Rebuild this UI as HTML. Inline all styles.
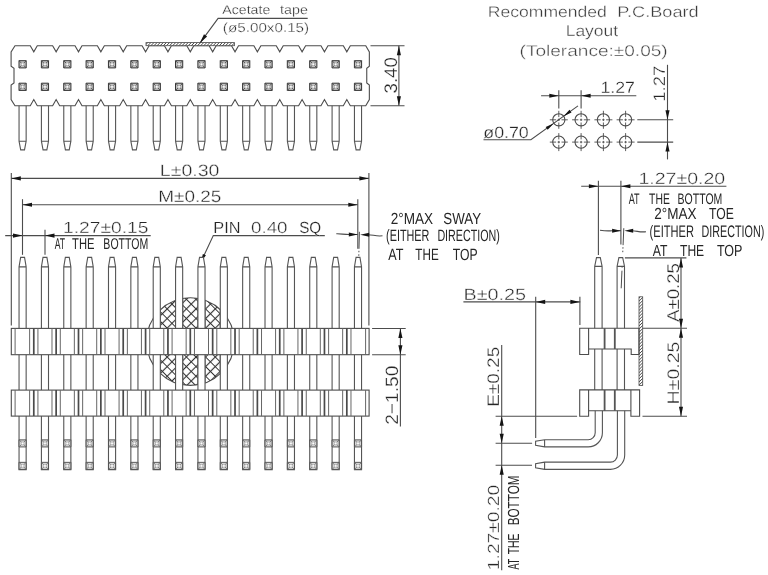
<!DOCTYPE html>
<html lang="en"><head><meta charset="utf-8"><title>Pin header drawing</title>
<style>
html,body{margin:0;padding:0;background:#fff;}
body{width:768px;height:575px;overflow:hidden;}
svg{display:block;}
svg #d{stroke:#4c4c4c;stroke-width:1.1;fill:none;}
svg .ar{fill:#141414;stroke:none;}
svg .sq{fill:#c4c4c4;stroke:#333;stroke-width:1;}
svg .sqd{stroke:#4a4a4a;stroke-width:0.9;}
svg .sq.lt{fill:#d6d6d6;stroke:#4a4a4a;stroke-width:0.9;}
svg .sqd.lt{stroke:#666;stroke-width:0.8;}
svg .sqi{fill:#fff;stroke:#999;stroke-width:0.5;}
svg #d{opacity:0.999;}
svg .t{font-family:"Liberation Sans",sans-serif;fill:#262626;stroke:#fff;text-rendering:geometricPrecision;}
svg .tl{fill:#3c3c3c;}
</style></head>
<body>
<svg width="768" height="575" viewBox="0 0 768 575">
<defs>
<pattern id="h1" width="2.2" height="2.2" patternUnits="userSpaceOnUse" patternTransform="rotate(45)"><rect width="2.2" height="2.2" fill="#fff"/><line x1="0" y1="0" x2="0" y2="2.2" style="stroke:#333;stroke-width:1.3"/></pattern>
<pattern id="h2" width="6.8" height="6.8" patternUnits="userSpaceOnUse" patternTransform="translate(191.2 299.29) rotate(45)"><path d="M0 3.4H6.8M3.4 0V6.8" style="stroke:#333;stroke-width:1.15;fill:none"/></pattern>
</defs>
<rect width="768" height="575" fill="#fff"/>
<g id="d">
<g id="topview">
<path d="M15 45.7L30.28 45.7L33.78 51.8L37.28 45.7L52.64 45.7L56.14 51.8L59.64 45.7L75 45.7L78.5 51.8L82 45.7L97.36 45.7L100.86 51.8L104.36 45.7L119.72 45.7L123.22 51.8L126.72 45.7L142.08 45.7L145.58 51.8L149.08 45.7L164.44 45.7L167.94 51.8L171.44 45.7L186.8 45.7L190.3 51.8L193.8 45.7L209.16 45.7L212.66 51.8L216.16 45.7L231.52 45.7L235.02 51.8L238.52 45.7L253.88 45.7L257.38 51.8L260.88 45.7L276.24 45.7L279.74 51.8L283.24 45.7L298.6 45.7L302.1 51.8L305.6 45.7L320.96 45.7L324.46 51.8L327.96 45.7L343.32 45.7L346.82 51.8L350.32 45.7L365.75 45.7L369.35 51.9L369.35 66.3L366.75 68.3L366.75 83L369.35 85L369.35 99.5L365.75 105.7L350.32 105.7L346.82 99.6L343.32 105.7L327.96 105.7L324.46 99.6L320.96 105.7L305.6 105.7L302.1 99.6L298.6 105.7L283.24 105.7L279.74 99.6L276.24 105.7L260.88 105.7L257.38 99.6L253.88 105.7L238.52 105.7L235.02 99.6L231.52 105.7L216.16 105.7L212.66 99.6L209.16 105.7L193.8 105.7L190.3 99.6L186.8 105.7L171.44 105.7L167.94 99.6L164.44 105.7L149.08 105.7L145.58 99.6L142.08 105.7L126.72 105.7L123.22 99.6L119.72 105.7L104.36 105.7L100.86 99.6L97.36 105.7L82 105.7L78.5 99.6L75 105.7L59.64 105.7L56.14 99.6L52.64 105.7L37.28 105.7L33.78 99.6L30.28 105.7L15 105.7L11.1 99.5L11.1 85L14 83L14 68.3L11.1 66.3L11.1 51.9Z"/>
<path class="sq" d="M19 60.7h7.2v7.2h-7.2Z"/>
<path class="sqd" d="M19 60.7l7.2 7.2M26.2 60.7l-7.2 7.2"/>
<path class="sqi" d="M21.35 63.05h2.5v2.5h-2.5Z"/>
<path class="sq" d="M19 83.2h7.2v7.2h-7.2Z"/>
<path class="sqd" d="M19 83.2l7.2 7.2M26.2 83.2l-7.2 7.2"/>
<path class="sqi" d="M21.35 85.55h2.5v2.5h-2.5Z"/>
<path d="M19.05 105.7V141.2L20.7 149.9H24.5L26.15 141.2V105.7M19.05 141.2H26.15" stroke="#555"/>
<path class="sq" d="M41.36 60.7h7.2v7.2h-7.2Z"/>
<path class="sqd" d="M41.36 60.7l7.2 7.2M48.56 60.7l-7.2 7.2"/>
<path class="sqi" d="M43.71 63.05h2.5v2.5h-2.5Z"/>
<path class="sq" d="M41.36 83.2h7.2v7.2h-7.2Z"/>
<path class="sqd" d="M41.36 83.2l7.2 7.2M48.56 83.2l-7.2 7.2"/>
<path class="sqi" d="M43.71 85.55h2.5v2.5h-2.5Z"/>
<path d="M41.41 105.7V141.2L43.06 149.9H46.86L48.51 141.2V105.7M41.41 141.2H48.51" stroke="#555"/>
<path class="sq" d="M63.72 60.7h7.2v7.2h-7.2Z"/>
<path class="sqd" d="M63.72 60.7l7.2 7.2M70.92 60.7l-7.2 7.2"/>
<path class="sqi" d="M66.07 63.05h2.5v2.5h-2.5Z"/>
<path class="sq" d="M63.72 83.2h7.2v7.2h-7.2Z"/>
<path class="sqd" d="M63.72 83.2l7.2 7.2M70.92 83.2l-7.2 7.2"/>
<path class="sqi" d="M66.07 85.55h2.5v2.5h-2.5Z"/>
<path d="M63.77 105.7V141.2L65.42 149.9H69.22L70.87 141.2V105.7M63.77 141.2H70.87" stroke="#555"/>
<path class="sq" d="M86.08 60.7h7.2v7.2h-7.2Z"/>
<path class="sqd" d="M86.08 60.7l7.2 7.2M93.28 60.7l-7.2 7.2"/>
<path class="sqi" d="M88.43 63.05h2.5v2.5h-2.5Z"/>
<path class="sq" d="M86.08 83.2h7.2v7.2h-7.2Z"/>
<path class="sqd" d="M86.08 83.2l7.2 7.2M93.28 83.2l-7.2 7.2"/>
<path class="sqi" d="M88.43 85.55h2.5v2.5h-2.5Z"/>
<path d="M86.13 105.7V141.2L87.78 149.9H91.58L93.23 141.2V105.7M86.13 141.2H93.23" stroke="#555"/>
<path class="sq" d="M108.44 60.7h7.2v7.2h-7.2Z"/>
<path class="sqd" d="M108.44 60.7l7.2 7.2M115.64 60.7l-7.2 7.2"/>
<path class="sqi" d="M110.79 63.05h2.5v2.5h-2.5Z"/>
<path class="sq" d="M108.44 83.2h7.2v7.2h-7.2Z"/>
<path class="sqd" d="M108.44 83.2l7.2 7.2M115.64 83.2l-7.2 7.2"/>
<path class="sqi" d="M110.79 85.55h2.5v2.5h-2.5Z"/>
<path d="M108.49 105.7V141.2L110.14 149.9H113.94L115.59 141.2V105.7M108.49 141.2H115.59" stroke="#555"/>
<path class="sq" d="M130.8 60.7h7.2v7.2h-7.2Z"/>
<path class="sqd" d="M130.8 60.7l7.2 7.2M138 60.7l-7.2 7.2"/>
<path class="sqi" d="M133.15 63.05h2.5v2.5h-2.5Z"/>
<path class="sq" d="M130.8 83.2h7.2v7.2h-7.2Z"/>
<path class="sqd" d="M130.8 83.2l7.2 7.2M138 83.2l-7.2 7.2"/>
<path class="sqi" d="M133.15 85.55h2.5v2.5h-2.5Z"/>
<path d="M130.85 105.7V141.2L132.5 149.9H136.3L137.95 141.2V105.7M130.85 141.2H137.95" stroke="#555"/>
<path class="sq" d="M153.16 60.7h7.2v7.2h-7.2Z"/>
<path class="sqd" d="M153.16 60.7l7.2 7.2M160.36 60.7l-7.2 7.2"/>
<path class="sqi" d="M155.51 63.05h2.5v2.5h-2.5Z"/>
<path class="sq" d="M153.16 83.2h7.2v7.2h-7.2Z"/>
<path class="sqd" d="M153.16 83.2l7.2 7.2M160.36 83.2l-7.2 7.2"/>
<path class="sqi" d="M155.51 85.55h2.5v2.5h-2.5Z"/>
<path d="M153.21 105.7V141.2L154.86 149.9H158.66L160.31 141.2V105.7M153.21 141.2H160.31" stroke="#555"/>
<path class="sq" d="M175.52 60.7h7.2v7.2h-7.2Z"/>
<path class="sqd" d="M175.52 60.7l7.2 7.2M182.72 60.7l-7.2 7.2"/>
<path class="sqi" d="M177.87 63.05h2.5v2.5h-2.5Z"/>
<path class="sq" d="M175.52 83.2h7.2v7.2h-7.2Z"/>
<path class="sqd" d="M175.52 83.2l7.2 7.2M182.72 83.2l-7.2 7.2"/>
<path class="sqi" d="M177.87 85.55h2.5v2.5h-2.5Z"/>
<path d="M175.57 105.7V141.2L177.22 149.9H181.02L182.67 141.2V105.7M175.57 141.2H182.67" stroke="#555"/>
<path class="sq" d="M197.88 60.7h7.2v7.2h-7.2Z"/>
<path class="sqd" d="M197.88 60.7l7.2 7.2M205.08 60.7l-7.2 7.2"/>
<path class="sqi" d="M200.23 63.05h2.5v2.5h-2.5Z"/>
<path class="sq" d="M197.88 83.2h7.2v7.2h-7.2Z"/>
<path class="sqd" d="M197.88 83.2l7.2 7.2M205.08 83.2l-7.2 7.2"/>
<path class="sqi" d="M200.23 85.55h2.5v2.5h-2.5Z"/>
<path d="M197.93 105.7V141.2L199.58 149.9H203.38L205.03 141.2V105.7M197.93 141.2H205.03" stroke="#555"/>
<path class="sq" d="M220.24 60.7h7.2v7.2h-7.2Z"/>
<path class="sqd" d="M220.24 60.7l7.2 7.2M227.44 60.7l-7.2 7.2"/>
<path class="sqi" d="M222.59 63.05h2.5v2.5h-2.5Z"/>
<path class="sq" d="M220.24 83.2h7.2v7.2h-7.2Z"/>
<path class="sqd" d="M220.24 83.2l7.2 7.2M227.44 83.2l-7.2 7.2"/>
<path class="sqi" d="M222.59 85.55h2.5v2.5h-2.5Z"/>
<path d="M220.29 105.7V141.2L221.94 149.9H225.74L227.39 141.2V105.7M220.29 141.2H227.39" stroke="#555"/>
<path class="sq" d="M242.6 60.7h7.2v7.2h-7.2Z"/>
<path class="sqd" d="M242.6 60.7l7.2 7.2M249.8 60.7l-7.2 7.2"/>
<path class="sqi" d="M244.95 63.05h2.5v2.5h-2.5Z"/>
<path class="sq" d="M242.6 83.2h7.2v7.2h-7.2Z"/>
<path class="sqd" d="M242.6 83.2l7.2 7.2M249.8 83.2l-7.2 7.2"/>
<path class="sqi" d="M244.95 85.55h2.5v2.5h-2.5Z"/>
<path d="M242.65 105.7V141.2L244.3 149.9H248.1L249.75 141.2V105.7M242.65 141.2H249.75" stroke="#555"/>
<path class="sq" d="M264.96 60.7h7.2v7.2h-7.2Z"/>
<path class="sqd" d="M264.96 60.7l7.2 7.2M272.16 60.7l-7.2 7.2"/>
<path class="sqi" d="M267.31 63.05h2.5v2.5h-2.5Z"/>
<path class="sq" d="M264.96 83.2h7.2v7.2h-7.2Z"/>
<path class="sqd" d="M264.96 83.2l7.2 7.2M272.16 83.2l-7.2 7.2"/>
<path class="sqi" d="M267.31 85.55h2.5v2.5h-2.5Z"/>
<path d="M265.01 105.7V141.2L266.66 149.9H270.46L272.11 141.2V105.7M265.01 141.2H272.11" stroke="#555"/>
<path class="sq" d="M287.32 60.7h7.2v7.2h-7.2Z"/>
<path class="sqd" d="M287.32 60.7l7.2 7.2M294.52 60.7l-7.2 7.2"/>
<path class="sqi" d="M289.67 63.05h2.5v2.5h-2.5Z"/>
<path class="sq" d="M287.32 83.2h7.2v7.2h-7.2Z"/>
<path class="sqd" d="M287.32 83.2l7.2 7.2M294.52 83.2l-7.2 7.2"/>
<path class="sqi" d="M289.67 85.55h2.5v2.5h-2.5Z"/>
<path d="M287.37 105.7V141.2L289.02 149.9H292.82L294.47 141.2V105.7M287.37 141.2H294.47" stroke="#555"/>
<path class="sq" d="M309.68 60.7h7.2v7.2h-7.2Z"/>
<path class="sqd" d="M309.68 60.7l7.2 7.2M316.88 60.7l-7.2 7.2"/>
<path class="sqi" d="M312.03 63.05h2.5v2.5h-2.5Z"/>
<path class="sq" d="M309.68 83.2h7.2v7.2h-7.2Z"/>
<path class="sqd" d="M309.68 83.2l7.2 7.2M316.88 83.2l-7.2 7.2"/>
<path class="sqi" d="M312.03 85.55h2.5v2.5h-2.5Z"/>
<path d="M309.73 105.7V141.2L311.38 149.9H315.18L316.83 141.2V105.7M309.73 141.2H316.83" stroke="#555"/>
<path class="sq" d="M332.04 60.7h7.2v7.2h-7.2Z"/>
<path class="sqd" d="M332.04 60.7l7.2 7.2M339.24 60.7l-7.2 7.2"/>
<path class="sqi" d="M334.39 63.05h2.5v2.5h-2.5Z"/>
<path class="sq" d="M332.04 83.2h7.2v7.2h-7.2Z"/>
<path class="sqd" d="M332.04 83.2l7.2 7.2M339.24 83.2l-7.2 7.2"/>
<path class="sqi" d="M334.39 85.55h2.5v2.5h-2.5Z"/>
<path d="M332.09 105.7V141.2L333.74 149.9H337.54L339.19 141.2V105.7M332.09 141.2H339.19" stroke="#555"/>
<path class="sq" d="M354.4 60.7h7.2v7.2h-7.2Z"/>
<path class="sqd" d="M354.4 60.7l7.2 7.2M361.6 60.7l-7.2 7.2"/>
<path class="sqi" d="M356.75 63.05h2.5v2.5h-2.5Z"/>
<path class="sq" d="M354.4 83.2h7.2v7.2h-7.2Z"/>
<path class="sqd" d="M354.4 83.2l7.2 7.2M361.6 83.2l-7.2 7.2"/>
<path class="sqi" d="M356.75 85.55h2.5v2.5h-2.5Z"/>
<path d="M354.45 105.7V141.2L356.1 149.9H359.9L361.55 141.2V105.7M354.45 141.2H361.55" stroke="#555"/>
<rect x="146" y="42.6" width="88.5" height="3.1" fill="url(#h1)" stroke="#4c4c4c" stroke-width="0.8"/>
<line x1="370.5" y1="45.7" x2="404.5" y2="45.7"/>
<line x1="370.5" y1="105.7" x2="404.5" y2="105.7"/>
<line x1="398.9" y1="45.7" x2="398.9" y2="105.7"/>
<path class="ar" d="M398.9 45.7L400.95 55.2L396.85 55.2Z"/>
<path class="ar" d="M398.9 105.7L396.85 96.2L400.95 96.2Z"/>
<text class="t" transform="translate(397.2 93.44) rotate(-90) scale(1.0257 1)" font-size="18.14" style="stroke-width:0.24px">3.40</text>
<path d="M307.7 18.4H218.1L200.6 42.2"/>
<path class="ar" d="M199.6 43.4L204.01 34.23L207.07 36.48Z"/>
<text class="t" transform="translate(222.25 13.5) scale(1.1152 1)" font-size="12.71" style="stroke-width:0.30px">Acetate</text>
<text class="t" transform="translate(280.11 13.5) scale(1.1233 1)" font-size="12.71" style="stroke-width:0.30px">tape</text>
<text class="t" transform="translate(222.84 31.6) scale(1.1712 1)" font-size="13" style="stroke-width:0.33px">(ø5.00x0.15)</text>
</g>
<g id="front">
<line x1="11.3" y1="173.1" x2="11.3" y2="325.4"/>
<line x1="368.9" y1="173.1" x2="368.9" y2="325.6"/>
<line x1="11.3" y1="178.4" x2="368.9" y2="178.4"/>
<path class="ar" d="M11.3 178.4L20.8 176.35L20.8 180.45Z"/>
<path class="ar" d="M368.9 178.4L359.4 180.45L359.4 176.35Z"/>
<text class="t" transform="translate(159.84 176) scale(1.1883 1)" font-size="16.43" style="stroke-width:0.35px">L±0.30</text>
<line x1="22.5" y1="199.2" x2="22.5" y2="254.8"/>
<line x1="357.8" y1="199.2" x2="357.8" y2="248.7"/>
<line x1="22.5" y1="204.8" x2="357.8" y2="204.8"/>
<path class="ar" d="M22.5 204.8L32 202.75L32 206.85Z"/>
<path class="ar" d="M357.8 204.8L348.3 206.85L348.3 202.75Z"/>
<text class="t" transform="translate(158.23 202.2) scale(1.1558 1)" font-size="16.43" style="stroke-width:0.32px">M±0.25</text>
<line x1="5.2" y1="235.6" x2="150.7" y2="235.6"/>
<line x1="45" y1="229.8" x2="45" y2="254.8"/>
<path class="ar" d="M22.5 235.6L13 237.65L13 233.55Z"/>
<path class="ar" d="M45 235.6L54.5 233.55L54.5 237.65Z"/>
<text class="t" transform="translate(63.06 233.1) scale(1.1931 1)" font-size="16.14" style="stroke-width:0.35px">1.27±0.15</text>
<text class="t" transform="translate(54.7 249.2) scale(0.5551 1)" font-size="15.57" style="stroke:none">AT</text>
<text class="t" transform="translate(72.08 249.2) scale(0.7183 1)" font-size="15.57" style="stroke:none">THE</text>
<text class="t" transform="translate(103.36 249.2) scale(0.6782 1)" font-size="15.57" style="stroke:none">BOTTOM</text>
<path d="M324.8 235.6H213.3L200.8 262.3"/>
<path class="ar" d="M200.8 262.3L202.86 253.88L205.94 255.32Z"/>
<text class="t" transform="translate(213.29 232.6) scale(1.0113 1)" font-size="16.14" style="stroke-width:0.23px">PIN</text>
<text class="t" transform="translate(251 232.6) scale(1.1644 1)" font-size="16.14" style="stroke-width:0.33px">0.40</text>
<text class="t" transform="translate(299.14 232.6) scale(0.9453 1)" font-size="16.14" style="stroke-width:0.18px">SQ</text>
<path d="M336.3 233.8C340 233.6 344 234.5 349 234.5H357.8"/>
<path class="ar" d="M357.8 234.5L348.8 236.55L348.8 232.45Z"/>
<path d="M368 234.7C373 234.7 376 236.6 382.5 235.8"/>
<path class="ar" d="M360.2 234.7L369.2 232.65L369.2 236.75Z"/>
<line x1="359.4" y1="231.8" x2="357.9" y2="292" stroke-dasharray="17 2 1.5 2 1.5 14 1.5 3 30" stroke-width="1"/>
<text class="t" transform="translate(390.72 223.5) scale(0.8409 1)" font-size="16.14" style="stroke:none">2°MAX</text>
<text class="t" transform="translate(443.33 223.5) scale(0.8248 1)" font-size="16.14" style="stroke:none">SWAY</text>
<text class="t" transform="translate(386.05 240.8) scale(0.6603 1)" font-size="16.43" style="stroke:none">(EITHER</text>
<text class="t" transform="translate(437.39 240.8) scale(0.6520 1)" font-size="16.43" style="stroke:none">DIRECTION)</text>
<text class="t" transform="translate(388.25 259.7) scale(0.7727 1)" font-size="16.29" style="stroke:none">AT</text>
<text class="t" transform="translate(415.37 259.7) scale(0.7169 1)" font-size="16.29" style="stroke:none">THE</text>
<text class="t" transform="translate(452.86 259.7) scale(0.7487 1)" font-size="16.29" style="stroke:none">TOP</text>
<circle cx="190.4" cy="341.6" r="43.8" fill="none"/>
<clipPath id="cc"><circle cx="190.4" cy="341.6" r="43.8"/></clipPath>
<rect x="160.31" y="296" width="15.26" height="91" fill="url(#h2)" clip-path="url(#cc)"/>
<rect x="182.67" y="296" width="15.26" height="91" fill="url(#h2)" clip-path="url(#cc)"/>
<rect x="205.03" y="296" width="15.26" height="91" fill="url(#h2)" clip-path="url(#cc)"/>
<path d="M19.05 328.4V266.9L20.65 257.4H24.55L26.15 266.9V328.4M19.05 266.9H26.15" stroke="#555" fill="#fff"/>
<rect x="19.05" y="354.7" width="7.1" height="35.4" fill="#fff" stroke="none"/>
<path d="M19.05 354.7V390.1M26.15 354.7V390.1" stroke="#555"/>
<path d="M19.05 416.1V469.8H26.15V416.1" stroke="#555"/>
<path class="sq lt" d="M19.05 439.85h7.1v7.1h-7.1Z"/>
<path class="sqd lt" d="M19.05 439.85l7.1 7.1M26.15 439.85l-7.1 7.1"/>
<path class="sqi" d="M21.3 442.1h2.6v2.6h-2.6Z"/>
<path class="sq lt" d="M19.05 462.35h7.1v7.1h-7.1Z"/>
<path class="sqd lt" d="M19.05 462.35l7.1 7.1M26.15 462.35l-7.1 7.1"/>
<path class="sqi" d="M21.3 464.6h2.6v2.6h-2.6Z"/>
<path d="M41.41 328.4V266.9L43.01 257.4H46.91L48.51 266.9V328.4M41.41 266.9H48.51" stroke="#555" fill="#fff"/>
<rect x="41.41" y="354.7" width="7.1" height="35.4" fill="#fff" stroke="none"/>
<path d="M41.41 354.7V390.1M48.51 354.7V390.1" stroke="#555"/>
<path d="M41.41 416.1V469.8H48.51V416.1" stroke="#555"/>
<path class="sq lt" d="M41.41 439.85h7.1v7.1h-7.1Z"/>
<path class="sqd lt" d="M41.41 439.85l7.1 7.1M48.51 439.85l-7.1 7.1"/>
<path class="sqi" d="M43.66 442.1h2.6v2.6h-2.6Z"/>
<path class="sq lt" d="M41.41 462.35h7.1v7.1h-7.1Z"/>
<path class="sqd lt" d="M41.41 462.35l7.1 7.1M48.51 462.35l-7.1 7.1"/>
<path class="sqi" d="M43.66 464.6h2.6v2.6h-2.6Z"/>
<path d="M63.77 328.4V266.9L65.37 257.4H69.27L70.87 266.9V328.4M63.77 266.9H70.87" stroke="#555" fill="#fff"/>
<rect x="63.77" y="354.7" width="7.1" height="35.4" fill="#fff" stroke="none"/>
<path d="M63.77 354.7V390.1M70.87 354.7V390.1" stroke="#555"/>
<path d="M63.77 416.1V469.8H70.87V416.1" stroke="#555"/>
<path class="sq lt" d="M63.77 439.85h7.1v7.1h-7.1Z"/>
<path class="sqd lt" d="M63.77 439.85l7.1 7.1M70.87 439.85l-7.1 7.1"/>
<path class="sqi" d="M66.02 442.1h2.6v2.6h-2.6Z"/>
<path class="sq lt" d="M63.77 462.35h7.1v7.1h-7.1Z"/>
<path class="sqd lt" d="M63.77 462.35l7.1 7.1M70.87 462.35l-7.1 7.1"/>
<path class="sqi" d="M66.02 464.6h2.6v2.6h-2.6Z"/>
<path d="M86.13 328.4V266.9L87.73 257.4H91.63L93.23 266.9V328.4M86.13 266.9H93.23" stroke="#555" fill="#fff"/>
<rect x="86.13" y="354.7" width="7.1" height="35.4" fill="#fff" stroke="none"/>
<path d="M86.13 354.7V390.1M93.23 354.7V390.1" stroke="#555"/>
<path d="M86.13 416.1V469.8H93.23V416.1" stroke="#555"/>
<path class="sq lt" d="M86.13 439.85h7.1v7.1h-7.1Z"/>
<path class="sqd lt" d="M86.13 439.85l7.1 7.1M93.23 439.85l-7.1 7.1"/>
<path class="sqi" d="M88.38 442.1h2.6v2.6h-2.6Z"/>
<path class="sq lt" d="M86.13 462.35h7.1v7.1h-7.1Z"/>
<path class="sqd lt" d="M86.13 462.35l7.1 7.1M93.23 462.35l-7.1 7.1"/>
<path class="sqi" d="M88.38 464.6h2.6v2.6h-2.6Z"/>
<path d="M108.49 328.4V266.9L110.09 257.4H113.99L115.59 266.9V328.4M108.49 266.9H115.59" stroke="#555" fill="#fff"/>
<rect x="108.49" y="354.7" width="7.1" height="35.4" fill="#fff" stroke="none"/>
<path d="M108.49 354.7V390.1M115.59 354.7V390.1" stroke="#555"/>
<path d="M108.49 416.1V469.8H115.59V416.1" stroke="#555"/>
<path class="sq lt" d="M108.49 439.85h7.1v7.1h-7.1Z"/>
<path class="sqd lt" d="M108.49 439.85l7.1 7.1M115.59 439.85l-7.1 7.1"/>
<path class="sqi" d="M110.74 442.1h2.6v2.6h-2.6Z"/>
<path class="sq lt" d="M108.49 462.35h7.1v7.1h-7.1Z"/>
<path class="sqd lt" d="M108.49 462.35l7.1 7.1M115.59 462.35l-7.1 7.1"/>
<path class="sqi" d="M110.74 464.6h2.6v2.6h-2.6Z"/>
<path d="M130.85 328.4V266.9L132.45 257.4H136.35L137.95 266.9V328.4M130.85 266.9H137.95" stroke="#555" fill="#fff"/>
<rect x="130.85" y="354.7" width="7.1" height="35.4" fill="#fff" stroke="none"/>
<path d="M130.85 354.7V390.1M137.95 354.7V390.1" stroke="#555"/>
<path d="M130.85 416.1V469.8H137.95V416.1" stroke="#555"/>
<path class="sq lt" d="M130.85 439.85h7.1v7.1h-7.1Z"/>
<path class="sqd lt" d="M130.85 439.85l7.1 7.1M137.95 439.85l-7.1 7.1"/>
<path class="sqi" d="M133.1 442.1h2.6v2.6h-2.6Z"/>
<path class="sq lt" d="M130.85 462.35h7.1v7.1h-7.1Z"/>
<path class="sqd lt" d="M130.85 462.35l7.1 7.1M137.95 462.35l-7.1 7.1"/>
<path class="sqi" d="M133.1 464.6h2.6v2.6h-2.6Z"/>
<path d="M153.21 328.4V266.9L154.81 257.4H158.71L160.31 266.9V328.4M153.21 266.9H160.31" stroke="#555" fill="#fff"/>
<rect x="153.21" y="354.7" width="7.1" height="35.4" fill="#fff" stroke="none"/>
<path d="M153.21 354.7V390.1M160.31 354.7V390.1" stroke="#555"/>
<path d="M153.21 416.1V469.8H160.31V416.1" stroke="#555"/>
<path class="sq lt" d="M153.21 439.85h7.1v7.1h-7.1Z"/>
<path class="sqd lt" d="M153.21 439.85l7.1 7.1M160.31 439.85l-7.1 7.1"/>
<path class="sqi" d="M155.46 442.1h2.6v2.6h-2.6Z"/>
<path class="sq lt" d="M153.21 462.35h7.1v7.1h-7.1Z"/>
<path class="sqd lt" d="M153.21 462.35l7.1 7.1M160.31 462.35l-7.1 7.1"/>
<path class="sqi" d="M155.46 464.6h2.6v2.6h-2.6Z"/>
<path d="M175.57 328.4V266.9L177.17 257.4H181.07L182.67 266.9V328.4M175.57 266.9H182.67" stroke="#555" fill="#fff"/>
<rect x="175.57" y="354.7" width="7.1" height="35.4" fill="#fff" stroke="none"/>
<path d="M175.57 354.7V390.1M182.67 354.7V390.1" stroke="#555"/>
<path d="M175.57 416.1V469.8H182.67V416.1" stroke="#555"/>
<path class="sq lt" d="M175.57 439.85h7.1v7.1h-7.1Z"/>
<path class="sqd lt" d="M175.57 439.85l7.1 7.1M182.67 439.85l-7.1 7.1"/>
<path class="sqi" d="M177.82 442.1h2.6v2.6h-2.6Z"/>
<path class="sq lt" d="M175.57 462.35h7.1v7.1h-7.1Z"/>
<path class="sqd lt" d="M175.57 462.35l7.1 7.1M182.67 462.35l-7.1 7.1"/>
<path class="sqi" d="M177.82 464.6h2.6v2.6h-2.6Z"/>
<path d="M197.93 328.4V266.9L199.53 257.4H203.43L205.03 266.9V328.4M197.93 266.9H205.03" stroke="#555" fill="#fff"/>
<rect x="197.93" y="354.7" width="7.1" height="35.4" fill="#fff" stroke="none"/>
<path d="M197.93 354.7V390.1M205.03 354.7V390.1" stroke="#555"/>
<path d="M197.93 416.1V469.8H205.03V416.1" stroke="#555"/>
<path class="sq lt" d="M197.93 439.85h7.1v7.1h-7.1Z"/>
<path class="sqd lt" d="M197.93 439.85l7.1 7.1M205.03 439.85l-7.1 7.1"/>
<path class="sqi" d="M200.18 442.1h2.6v2.6h-2.6Z"/>
<path class="sq lt" d="M197.93 462.35h7.1v7.1h-7.1Z"/>
<path class="sqd lt" d="M197.93 462.35l7.1 7.1M205.03 462.35l-7.1 7.1"/>
<path class="sqi" d="M200.18 464.6h2.6v2.6h-2.6Z"/>
<path d="M220.29 328.4V266.9L221.89 257.4H225.79L227.39 266.9V328.4M220.29 266.9H227.39" stroke="#555" fill="#fff"/>
<rect x="220.29" y="354.7" width="7.1" height="35.4" fill="#fff" stroke="none"/>
<path d="M220.29 354.7V390.1M227.39 354.7V390.1" stroke="#555"/>
<path d="M220.29 416.1V469.8H227.39V416.1" stroke="#555"/>
<path class="sq lt" d="M220.29 439.85h7.1v7.1h-7.1Z"/>
<path class="sqd lt" d="M220.29 439.85l7.1 7.1M227.39 439.85l-7.1 7.1"/>
<path class="sqi" d="M222.54 442.1h2.6v2.6h-2.6Z"/>
<path class="sq lt" d="M220.29 462.35h7.1v7.1h-7.1Z"/>
<path class="sqd lt" d="M220.29 462.35l7.1 7.1M227.39 462.35l-7.1 7.1"/>
<path class="sqi" d="M222.54 464.6h2.6v2.6h-2.6Z"/>
<path d="M242.65 328.4V266.9L244.25 257.4H248.15L249.75 266.9V328.4M242.65 266.9H249.75" stroke="#555" fill="#fff"/>
<rect x="242.65" y="354.7" width="7.1" height="35.4" fill="#fff" stroke="none"/>
<path d="M242.65 354.7V390.1M249.75 354.7V390.1" stroke="#555"/>
<path d="M242.65 416.1V469.8H249.75V416.1" stroke="#555"/>
<path class="sq lt" d="M242.65 439.85h7.1v7.1h-7.1Z"/>
<path class="sqd lt" d="M242.65 439.85l7.1 7.1M249.75 439.85l-7.1 7.1"/>
<path class="sqi" d="M244.9 442.1h2.6v2.6h-2.6Z"/>
<path class="sq lt" d="M242.65 462.35h7.1v7.1h-7.1Z"/>
<path class="sqd lt" d="M242.65 462.35l7.1 7.1M249.75 462.35l-7.1 7.1"/>
<path class="sqi" d="M244.9 464.6h2.6v2.6h-2.6Z"/>
<path d="M265.01 328.4V266.9L266.61 257.4H270.51L272.11 266.9V328.4M265.01 266.9H272.11" stroke="#555" fill="#fff"/>
<rect x="265.01" y="354.7" width="7.1" height="35.4" fill="#fff" stroke="none"/>
<path d="M265.01 354.7V390.1M272.11 354.7V390.1" stroke="#555"/>
<path d="M265.01 416.1V469.8H272.11V416.1" stroke="#555"/>
<path class="sq lt" d="M265.01 439.85h7.1v7.1h-7.1Z"/>
<path class="sqd lt" d="M265.01 439.85l7.1 7.1M272.11 439.85l-7.1 7.1"/>
<path class="sqi" d="M267.26 442.1h2.6v2.6h-2.6Z"/>
<path class="sq lt" d="M265.01 462.35h7.1v7.1h-7.1Z"/>
<path class="sqd lt" d="M265.01 462.35l7.1 7.1M272.11 462.35l-7.1 7.1"/>
<path class="sqi" d="M267.26 464.6h2.6v2.6h-2.6Z"/>
<path d="M287.37 328.4V266.9L288.97 257.4H292.87L294.47 266.9V328.4M287.37 266.9H294.47" stroke="#555" fill="#fff"/>
<rect x="287.37" y="354.7" width="7.1" height="35.4" fill="#fff" stroke="none"/>
<path d="M287.37 354.7V390.1M294.47 354.7V390.1" stroke="#555"/>
<path d="M287.37 416.1V469.8H294.47V416.1" stroke="#555"/>
<path class="sq lt" d="M287.37 439.85h7.1v7.1h-7.1Z"/>
<path class="sqd lt" d="M287.37 439.85l7.1 7.1M294.47 439.85l-7.1 7.1"/>
<path class="sqi" d="M289.62 442.1h2.6v2.6h-2.6Z"/>
<path class="sq lt" d="M287.37 462.35h7.1v7.1h-7.1Z"/>
<path class="sqd lt" d="M287.37 462.35l7.1 7.1M294.47 462.35l-7.1 7.1"/>
<path class="sqi" d="M289.62 464.6h2.6v2.6h-2.6Z"/>
<path d="M309.73 328.4V266.9L311.33 257.4H315.23L316.83 266.9V328.4M309.73 266.9H316.83" stroke="#555" fill="#fff"/>
<rect x="309.73" y="354.7" width="7.1" height="35.4" fill="#fff" stroke="none"/>
<path d="M309.73 354.7V390.1M316.83 354.7V390.1" stroke="#555"/>
<path d="M309.73 416.1V469.8H316.83V416.1" stroke="#555"/>
<path class="sq lt" d="M309.73 439.85h7.1v7.1h-7.1Z"/>
<path class="sqd lt" d="M309.73 439.85l7.1 7.1M316.83 439.85l-7.1 7.1"/>
<path class="sqi" d="M311.98 442.1h2.6v2.6h-2.6Z"/>
<path class="sq lt" d="M309.73 462.35h7.1v7.1h-7.1Z"/>
<path class="sqd lt" d="M309.73 462.35l7.1 7.1M316.83 462.35l-7.1 7.1"/>
<path class="sqi" d="M311.98 464.6h2.6v2.6h-2.6Z"/>
<path d="M332.09 328.4V266.9L333.69 257.4H337.59L339.19 266.9V328.4M332.09 266.9H339.19" stroke="#555" fill="#fff"/>
<rect x="332.09" y="354.7" width="7.1" height="35.4" fill="#fff" stroke="none"/>
<path d="M332.09 354.7V390.1M339.19 354.7V390.1" stroke="#555"/>
<path d="M332.09 416.1V469.8H339.19V416.1" stroke="#555"/>
<path class="sq lt" d="M332.09 439.85h7.1v7.1h-7.1Z"/>
<path class="sqd lt" d="M332.09 439.85l7.1 7.1M339.19 439.85l-7.1 7.1"/>
<path class="sqi" d="M334.34 442.1h2.6v2.6h-2.6Z"/>
<path class="sq lt" d="M332.09 462.35h7.1v7.1h-7.1Z"/>
<path class="sqd lt" d="M332.09 462.35l7.1 7.1M339.19 462.35l-7.1 7.1"/>
<path class="sqi" d="M334.34 464.6h2.6v2.6h-2.6Z"/>
<path d="M354.45 328.4V266.9L356.05 257.4H359.95L361.55 266.9V328.4M354.45 266.9H361.55" stroke="#555" fill="#fff"/>
<rect x="354.45" y="354.7" width="7.1" height="35.4" fill="#fff" stroke="none"/>
<path d="M354.45 354.7V390.1M361.55 354.7V390.1" stroke="#555"/>
<path d="M354.45 416.1V469.8H361.55V416.1" stroke="#555"/>
<path class="sq lt" d="M354.45 439.85h7.1v7.1h-7.1Z"/>
<path class="sqd lt" d="M354.45 439.85l7.1 7.1M361.55 439.85l-7.1 7.1"/>
<path class="sqi" d="M356.7 442.1h2.6v2.6h-2.6Z"/>
<path class="sq lt" d="M354.45 462.35h7.1v7.1h-7.1Z"/>
<path class="sqd lt" d="M354.45 462.35l7.1 7.1M361.55 462.35l-7.1 7.1"/>
<path class="sqi" d="M356.7 464.6h2.6v2.6h-2.6Z"/>
<rect x="11.3" y="328.4" width="357.8" height="26.3" fill="#fff" stroke="#4c4c4c" stroke-width="1.1"/>
<path d="M15.1 328.4V354.7M365.6 328.4V354.7M29.63 328.4V354.7M51.99 328.4V354.7M74.35 328.4V354.7M96.71 328.4V354.7M119.07 328.4V354.7M141.43 328.4V354.7M163.79 328.4V354.7M186.15 328.4V354.7M208.51 328.4V354.7M230.87 328.4V354.7M253.23 328.4V354.7M275.59 328.4V354.7M297.95 328.4V354.7M320.31 328.4V354.7M342.67 328.4V354.7M37.93 328.4V354.7M60.29 328.4V354.7M82.65 328.4V354.7M105.01 328.4V354.7M127.37 328.4V354.7M149.73 328.4V354.7M172.09 328.4V354.7M194.45 328.4V354.7M216.81 328.4V354.7M239.17 328.4V354.7M261.53 328.4V354.7M283.89 328.4V354.7M306.25 328.4V354.7M328.61 328.4V354.7M350.97 328.4V354.7" stroke="#666" stroke-width="1"/>
<path d="M33.78 328.4V354.7M56.14 328.4V354.7M78.5 328.4V354.7M100.86 328.4V354.7M123.22 328.4V354.7M145.58 328.4V354.7M167.94 328.4V354.7M190.3 328.4V354.7M212.66 328.4V354.7M235.02 328.4V354.7M257.38 328.4V354.7M279.74 328.4V354.7M302.1 328.4V354.7M324.46 328.4V354.7M346.82 328.4V354.7" stroke="#4a4a4a" stroke-width="1.7"/>
<rect x="11.3" y="390.1" width="357.8" height="26" fill="#fff" stroke="#4c4c4c" stroke-width="1.1"/>
<path d="M15.1 390.1V416.1M365.6 390.1V416.1M29.63 390.1V416.1M51.99 390.1V416.1M74.35 390.1V416.1M96.71 390.1V416.1M119.07 390.1V416.1M141.43 390.1V416.1M163.79 390.1V416.1M186.15 390.1V416.1M208.51 390.1V416.1M230.87 390.1V416.1M253.23 390.1V416.1M275.59 390.1V416.1M297.95 390.1V416.1M320.31 390.1V416.1M342.67 390.1V416.1M37.93 390.1V416.1M60.29 390.1V416.1M82.65 390.1V416.1M105.01 390.1V416.1M127.37 390.1V416.1M149.73 390.1V416.1M172.09 390.1V416.1M194.45 390.1V416.1M216.81 390.1V416.1M239.17 390.1V416.1M261.53 390.1V416.1M283.89 390.1V416.1M306.25 390.1V416.1M328.61 390.1V416.1M350.97 390.1V416.1" stroke="#666" stroke-width="1"/>
<path d="M33.78 390.1V416.1M56.14 390.1V416.1M78.5 390.1V416.1M100.86 390.1V416.1M123.22 390.1V416.1M145.58 390.1V416.1M167.94 390.1V416.1M190.3 390.1V416.1M212.66 390.1V416.1M235.02 390.1V416.1M257.38 390.1V416.1M279.74 390.1V416.1M302.1 390.1V416.1M324.46 390.1V416.1M346.82 390.1V416.1" stroke="#4a4a4a" stroke-width="1.7"/>
<line x1="372.1" y1="328.5" x2="405.7" y2="328.5"/>
<line x1="372.1" y1="354.8" x2="405.7" y2="354.8"/>
<line x1="400.4" y1="328.5" x2="400.4" y2="426.6"/>
<path class="ar" d="M400.4 328.5L402.45 338L398.35 338Z"/>
<path class="ar" d="M400.4 354.8L398.35 345.3L402.45 345.3Z"/>
<text class="t" transform="translate(398.1 424.86) rotate(-90) scale(1.0752 1)" font-size="17.86" style="stroke-width:0.27px">2−1.50</text>
</g>
<g id="pcb">
<text class="t tl" transform="translate(487.8 17.3) scale(1.1382 1)" font-size="15.43" style="stroke-width:0.31px">Recommended</text>
<text class="t tl" transform="translate(617.25 17.3) scale(1.1768 1)" font-size="15.43" style="stroke-width:0.34px">P.C.Board</text>
<text class="t tl" transform="translate(565.7 36) scale(1.1217 1)" font-size="15.57" style="stroke-width:0.30px">Layout</text>
<text class="t tl" transform="translate(519.56 56) scale(1.2240 1)" font-size="15.57" style="stroke-width:0.36px">(Tolerance:±0.05)</text>
<circle cx="558.8" cy="119.8" r="6.1" fill="none"/>
<path d="M549.8 119.8H567.8M558.8 110.8V128.8" stroke-width="0.9" stroke-dasharray="6.3 1.5 2.4 1.5 6.3 0"/>
<circle cx="558.8" cy="142.1" r="6.1" fill="none"/>
<path d="M549.8 142.1H567.8M558.8 133.1V151.1" stroke-width="0.9" stroke-dasharray="6.3 1.5 2.4 1.5 6.3 0"/>
<circle cx="581.1" cy="119.8" r="6.1" fill="none"/>
<path d="M572.1 119.8H590.1M581.1 110.8V128.8" stroke-width="0.9" stroke-dasharray="6.3 1.5 2.4 1.5 6.3 0"/>
<circle cx="581.1" cy="142.1" r="6.1" fill="none"/>
<path d="M572.1 142.1H590.1M581.1 133.1V151.1" stroke-width="0.9" stroke-dasharray="6.3 1.5 2.4 1.5 6.3 0"/>
<circle cx="603.4" cy="119.8" r="6.1" fill="none"/>
<path d="M594.4 119.8H612.4M603.4 110.8V128.8" stroke-width="0.9" stroke-dasharray="6.3 1.5 2.4 1.5 6.3 0"/>
<circle cx="603.4" cy="142.1" r="6.1" fill="none"/>
<path d="M594.4 142.1H612.4M603.4 133.1V151.1" stroke-width="0.9" stroke-dasharray="6.3 1.5 2.4 1.5 6.3 0"/>
<circle cx="625.6" cy="119.8" r="6.1" fill="none"/>
<path d="M616.6 119.8H634.6M625.6 110.8V128.8" stroke-width="0.9" stroke-dasharray="6.3 1.5 2.4 1.5 6.3 0"/>
<circle cx="625.6" cy="142.1" r="6.1" fill="none"/>
<path d="M616.6 142.1H634.6M625.6 133.1V151.1" stroke-width="0.9" stroke-dasharray="6.3 1.5 2.4 1.5 6.3 0"/>
<line x1="541.1" y1="95.8" x2="636.3" y2="95.8"/>
<line x1="558.8" y1="90.3" x2="558.8" y2="108.5"/>
<line x1="581.1" y1="90.3" x2="581.1" y2="108.5"/>
<path class="ar" d="M558.8 95.8L549.3 97.85L549.3 93.75Z"/>
<path class="ar" d="M581.1 95.8L590.6 93.75L590.6 97.85Z"/>
<text class="t" transform="translate(600.38 93.3) scale(1.0897 1)" font-size="16.29" style="stroke-width:0.28px">1.27</text>
<line x1="637.3" y1="119.8" x2="673.2" y2="119.8"/>
<line x1="637.3" y1="142.1" x2="673.2" y2="142.1"/>
<line x1="667.5" y1="64.8" x2="667.5" y2="159.4"/>
<path class="ar" d="M667.5 119.8L665.45 110.3L669.55 110.3Z"/>
<path class="ar" d="M667.5 142.1L669.55 151.6L665.45 151.6Z"/>
<text class="t" transform="translate(664.9 101.67) rotate(-90) scale(1.1107 1)" font-size="16.57" style="stroke-width:0.29px">1.27</text>
<path d="M483.5 139.7H530.9L578 105.9"/>
<path class="ar" d="M553.6 123.4L547.7 129.75L545.71 126.99Z"/>
<path class="ar" d="M563.6 116.2L569.5 109.85L571.49 112.61Z"/>
<text class="t" transform="translate(483.27 137.6) scale(1.0924 1)" font-size="16.29" style="stroke-width:0.28px">ø0.70</text>
</g>
<g id="side">
<line x1="581.2" y1="186.2" x2="726.4" y2="186.2"/>
<line x1="598.4" y1="180.8" x2="598.4" y2="254.9"/>
<line x1="620.9" y1="180.8" x2="620.9" y2="244.5"/>
<path class="ar" d="M598.4 186.2L588.9 188.25L588.9 184.15Z"/>
<path class="ar" d="M620.9 186.2L630.4 184.15L630.4 188.25Z"/>
<text class="t" transform="translate(638.44 183.7) scale(1.1996 1)" font-size="16.29" style="stroke-width:0.35px">1.27±0.20</text>
<text class="t" transform="translate(628.7 203.5) scale(0.5932 1)" font-size="15.29" style="stroke:none">AT</text>
<text class="t" transform="translate(649.09 203.5) scale(0.6778 1)" font-size="15.29" style="stroke:none">THE</text>
<text class="t" transform="translate(677.56 203.5) scale(0.6877 1)" font-size="15.29" style="stroke:none">BOTTOM</text>
<text class="t" transform="translate(654.22 219.3) scale(0.8388 1)" font-size="16.14" style="stroke:none">2°MAX</text>
<text class="t" transform="translate(709.06 219.3) scale(0.7547 1)" font-size="16.14" style="stroke:none">TOE</text>
<text class="t" transform="translate(649.58 237.2) scale(0.6637 1)" font-size="16.71" style="stroke:none">(EITHER</text>
<text class="t" transform="translate(701.54 237.2) scale(0.6446 1)" font-size="16.71" style="stroke:none">DIRECTION)</text>
<text class="t" transform="translate(652.7 255.8) scale(0.7560 1)" font-size="16.14" style="stroke:none">AT</text>
<text class="t" transform="translate(680.01 255.8) scale(0.7488 1)" font-size="16.14" style="stroke:none">THE</text>
<text class="t" transform="translate(716.95 255.8) scale(0.7759 1)" font-size="16.14" style="stroke:none">TOP</text>
<path d="M600 230.2C604 230.8 607 231.2 612 230.7H620.9"/>
<path class="ar" d="M620.9 230.7L612.1 232.75L612.1 228.65Z"/>
<path d="M632 230.8C637 230.8 640 232.6 646 231.7"/>
<path class="ar" d="M624.4 230.8L633.2 228.75L633.2 232.85Z"/>
<line x1="623.8" y1="228.2" x2="621.2" y2="288.3" stroke-dasharray="17 2 1.5 2 1.5 14 1.5 3 30" stroke-width="1"/>
<path d="M594.7 328.3V266.4L596.5 257.6H600.3L602.1 266.4V328.3M594.7 266.4H602.1" stroke="#555"/>
<path d="M594.7 349V389.9M602.1 349V389.9" stroke="#555"/>
<path d="M617.1 328.3V266.4L618.9 257.6H622.7L624.5 266.4V328.3M617.1 266.4H624.5" stroke="#555"/>
<path d="M617.1 349V389.9M624.5 349V389.9" stroke="#555"/>
<rect x="639" y="296.8" width="3.7" height="88.6" fill="url(#h1)" stroke="#4c4c4c" stroke-width="0.8"/>
<path d="M579.7 328.3H639V354.5H631.2V349H588.6V354.5H579.7ZM588.6 328.3V349"/>
<path d="M579.7 389.9H639.6V416.2H630.9V410.8H588.6V416.2H579.7ZM588.6 389.9V410.8M630.9 389.9V410.8"/>
<path d="M604.6 328.3V349M614.8 328.3V349M604.6 389.9V410.8M614.8 389.9V410.8" stroke="#555" stroke-width="1.8"/>
<path d="M595.2 410.8V432.7A7.0 7.0 0 0 1 588.2 439.7H544.6L535.6 441.2V445.4L544.6 446.9H588.2A14.2 14.2 0 0 0 602.4 432.7V410.8M544.6 439.7V446.9" stroke="#555"/>
<path d="M617.4 410.8V455.1A7.0 7.0 0 0 1 610.4 462.1H544.6L535.6 463.6V467.9L544.6 469.4H610.4A14.3 14.3 0 0 0 624.7 455.1V410.8M544.6 462.1V469.4" stroke="#555"/>
<line x1="463.4" y1="301.9" x2="580.3" y2="301.9"/>
<line x1="535.7" y1="296.7" x2="535.7" y2="437.9"/>
<line x1="579.9" y1="296.7" x2="579.9" y2="324.9"/>
<path class="ar" d="M535.7 301.9L545.2 299.85L545.2 303.95Z"/>
<path class="ar" d="M579.9 301.9L570.4 303.95L570.4 299.85Z"/>
<text class="t" transform="translate(463.42 299.9) scale(1.2160 1)" font-size="16.29" style="stroke-width:0.36px">B±0.25</text>
<line x1="501.7" y1="345.1" x2="501.7" y2="570.3"/>
<line x1="495.6" y1="416.2" x2="577.1" y2="416.2"/>
<line x1="495.6" y1="443.3" x2="532.1" y2="443.3"/>
<line x1="495.6" y1="465.2" x2="532" y2="465.2"/>
<path class="ar" d="M501.7 416.2L503.75 425.7L499.65 425.7Z"/>
<path class="ar" d="M501.7 443.3L499.65 433.8L503.75 433.8Z"/>
<path class="ar" d="M501.7 465.2L503.75 474.7L499.65 474.7Z"/>
<text class="t" transform="translate(499.3 406.72) rotate(-90) scale(1.1356 1)" font-size="16.71" style="stroke-width:0.31px">E±0.25</text>
<text class="t" transform="translate(498.7 570.14) rotate(-90) scale(1.1916 1)" font-size="16.14" style="stroke-width:0.35px">1.27±0.20</text>
<text class="t" transform="translate(518.8 569.5) rotate(-90) scale(0.5614 1)" font-size="16" style="stroke:none">AT</text>
<text class="t" transform="translate(518.8 554.21) rotate(-90) scale(0.6476 1)" font-size="16" style="stroke:none">THE</text>
<text class="t" transform="translate(518.8 525.34) rotate(-90) scale(0.7317 1)" font-size="16" style="stroke:none">BOTTOM</text>
<line x1="624.9" y1="257.9" x2="686.4" y2="257.9"/>
<line x1="643" y1="328.2" x2="687" y2="328.2"/>
<line x1="642.5" y1="416.2" x2="687" y2="416.2"/>
<line x1="681" y1="257.9" x2="681" y2="416.2"/>
<path class="ar" d="M681 257.9L683.05 267.4L678.95 267.4Z"/>
<path class="ar" d="M681 328.2L678.95 318.7L683.05 318.7Z"/>
<path class="ar" d="M681 328.2L683.05 337.7L678.95 337.7Z"/>
<path class="ar" d="M681 416.2L678.95 406.7L683.05 406.7Z"/>
<text class="t" transform="translate(679 322) rotate(-90) scale(1.0973 1)" font-size="17" style="stroke-width:0.28px">A±0.25</text>
<text class="t" transform="translate(679.2 404.47) rotate(-90) scale(1.1714 1)" font-size="16.71" style="stroke-width:0.33px">H±0.25</text>
</g>
</g>
</svg>
</body></html>
